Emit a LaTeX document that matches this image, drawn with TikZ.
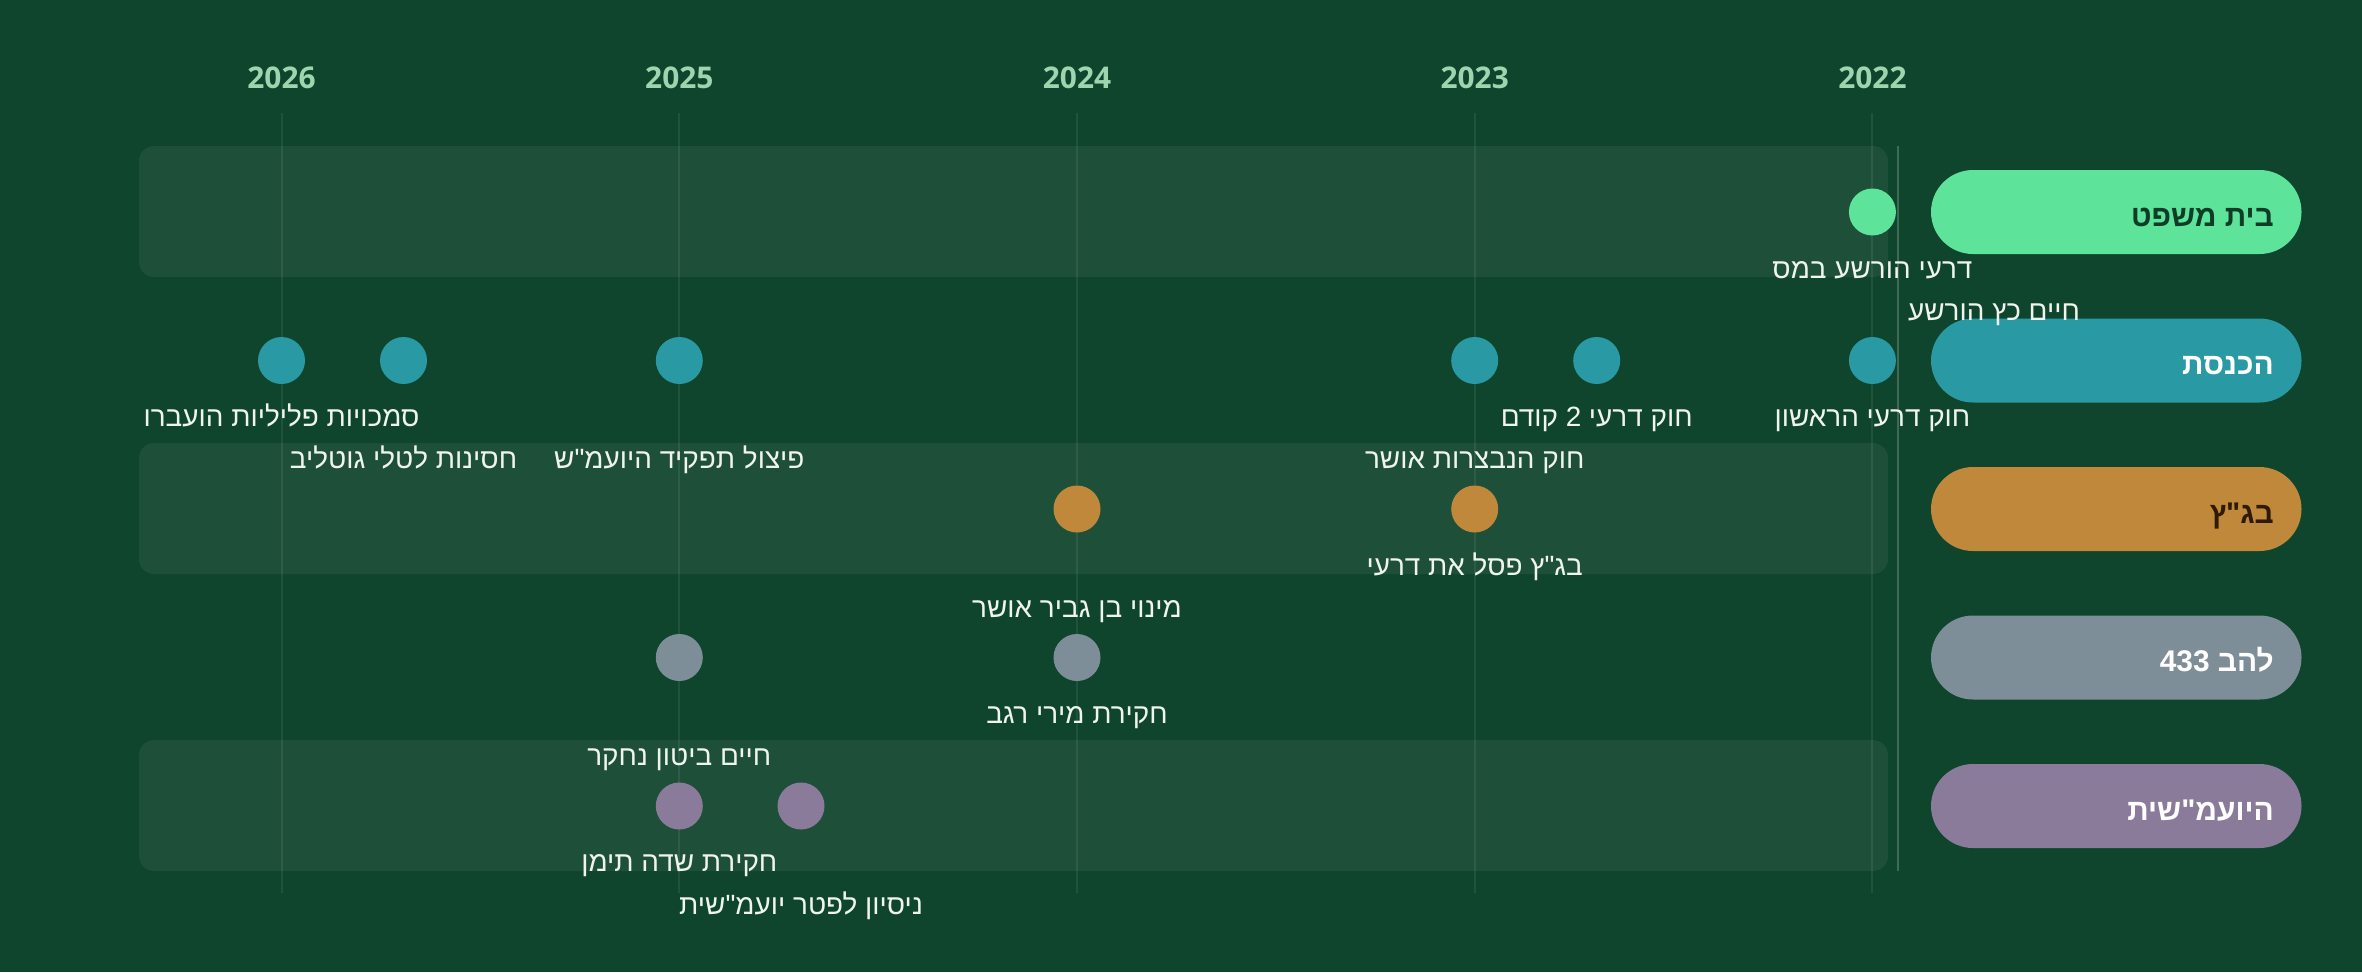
\documentclass[tikz,border=0pt]{standalone}
\usepackage{fontspec}
\setmainfont{Open Sans}
\newfontfamily\hebfont[Script=Hebrew]{Liberation Sans}
\TeXXeTstate=1
\definecolor{bgc}{RGB}{14,69,44}
\definecolor{bandc}{RGB}{30,79,57}
\definecolor{yearc}{RGB}{159,212,175}
\definecolor{lblc}{RGB}{240,244,238}
\definecolor{courtc}{RGB}{94,227,155}
\definecolor{courttxt}{RGB}{14,60,38}
\definecolor{knessetc}{RGB}{41,154,164}
\definecolor{bagatzc}{RGB}{191,136,58}
\definecolor{bagatztxt}{RGB}{46,26,6}
\definecolor{lahavc}{RGB}{125,142,153}
\definecolor{agc}{RGB}{138,123,155}
\begin{document}
\begin{tikzpicture}[x=1bp,y=-1bp,
  lbl/.style={text=lblc, font=\hebfont\fontsize{28}{32}\selectfont, anchor=base, inner sep=0},
  yearlbl/.style={text=yearc, font=\bfseries\fontsize{30}{34}\selectfont, anchor=base, inner sep=0},
  dot/.style={circle, minimum size=47bp, inner sep=0},
  pill/.style={rounded corners=42bp, minimum width=370.5bp, minimum height=84bp, inner sep=0},
  pilltxt/.style={font=\hebfont\bfseries\fontsize{30}{34}\selectfont, anchor=base east, inner sep=0},
  band/.style={fill=bandc, rounded corners=15bp},
  gridline/.style={draw=white, draw opacity=0.08, line width=2bp},
  sepline/.style={draw=white, draw opacity=0.2, line width=2bp}]
\useasboundingbox (0,0) rectangle (2362,972);
\fill[bgc] (0,0) rectangle (2362,972);
% bands
\fill[band] (139,146) rectangle (1888,277);
\fill[band] (139,443) rectangle (1888,574);
\fill[band] (139,740) rectangle (1888,871);
% year grid
\foreach \x/\yr in {281.5/2026,679.3/2025,1077/2024,1474.7/2023,1872.4/2022}{
  \draw[gridline] (\x,113) -- (\x,893);
  \node[yearlbl] (y\yr) at (\x,88) {\yr};
}
\draw[sepline] (1898,146) -- (1898,871);
% lane 1 court
\node[dot, fill=courtc] (c1) at (1872.4,212) {};
% lane 2 knesset
\node[dot, fill=knessetc] (k1) at (281.5,360.5) {};
\node[dot, fill=knessetc] (k2) at (403.5,360.5) {};
\node[dot, fill=knessetc] (k3) at (679.3,360.5) {};
\node[dot, fill=knessetc] (k4) at (1474.7,360.5) {};
\node[dot, fill=knessetc] (k5) at (1596.7,360.5) {};
\node[dot, fill=knessetc] (k6) at (1872.4,360.5) {};
% lane 3 bagatz
\node[dot, fill=bagatzc] (b1) at (1077,509) {};
\node[dot, fill=bagatzc] (b2) at (1474.7,509) {};
% lane 4 lahav
\node[dot, fill=lahavc] (h1) at (679.3,657.5) {};
\node[dot, fill=lahavc] (h2) at (1077,657.5) {};
% lane 5 AG
\node[dot, fill=agc] (a1) at (679.3,806) {};
\node[dot, fill=agc] (a2) at (801,806) {};
% pills
\node[pill, fill=courtc] (p1) at (2116.25,212) {};
\node[pill, fill=knessetc] (p2) at (2116.25,360.5) {};
\node[pill, fill=bagatzc] (p3) at (2116.25,509) {};
\node[pill, fill=lahavc] (p4) at (2116.25,657.5) {};
\node[pill, fill=agc] (p5) at (2116.25,806) {};
\node[pilltxt, text=courttxt] (pt1) at (2274,226) {\beginR בית משפט\endR};
\node[pilltxt, text=white] (pt2) at (2274,374.5) {\beginR הכנסת\endR};
\node[pilltxt, text=bagatztxt] (pt3) at (2274,523) {\beginR בג"ץ\endR};
\node[pilltxt, text=white] (pt4) at (2274,671.5) {\beginR להב \beginL433\endL\endR};
\node[pilltxt, text=white] (pt5) at (2274,820) {\beginR היועמ"שית\endR};
% labels
\node[lbl] (lc1) at (1872.4,278) {\beginR דרעי הורשע במס\endR};
\node[lbl] (lc2) at (1994,320) {\beginR חיים כץ הורשע\endR};
\node[lbl] (lk1) at (281.5,426.5) {\beginR סמכויות פליליות הועברו\endR};
\node[lbl] (lk2) at (403.5,468.5) {\beginR חסינות לטלי גוטליב\endR};
\node[lbl] (lk3) at (679.3,468.5) {\beginR פיצול תפקיד היועמ"ש\endR};
\node[lbl] (lk4) at (1474.7,468.5) {\beginR חוק הנבצרות אושר\endR};
\node[lbl] (lk5) at (1596.7,426.5) {\beginR חוק דרעי 2 קודם\endR};
\node[lbl] (lk6) at (1872.4,426.5) {\beginR חוק דרעי הראשון\endR};
\node[lbl] (lb1) at (1474.7,575) {\beginR בג"ץ פסל את דרעי\endR};
\node[lbl] (lb2) at (1077,617) {\beginR מינוי בן גביר אושר\endR};
\node[lbl] (lh1) at (1077,723.5) {\beginR חקירת מירי רגב\endR};
\node[lbl] (lh2) at (679.3,765.5) {\beginR חיים ביטון נחקר\endR};
\node[lbl] (la1) at (679.3,871.5) {\beginR חקירת שדה תימן\endR};
\node[lbl] (la2) at (801,914) {\beginR ניסיון לפטר יועמ"שית\endR};
\end{tikzpicture}
\end{document}
